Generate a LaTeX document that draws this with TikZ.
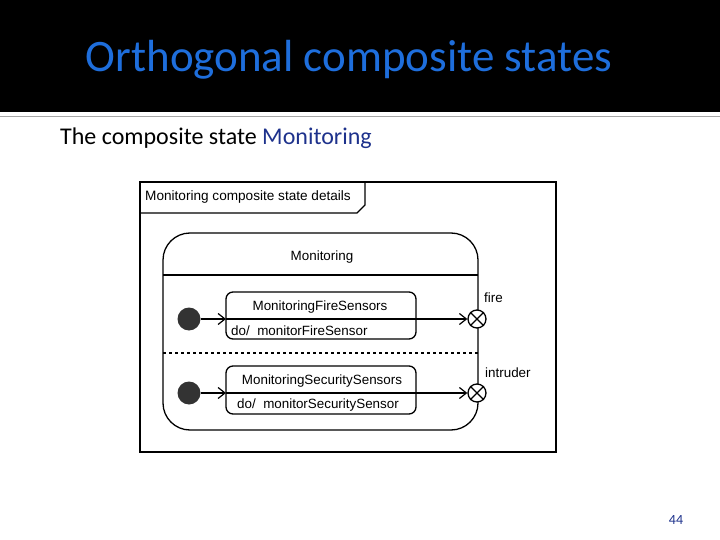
\documentclass[tikz,border=0pt]{standalone}
\usepackage{fontspec}
\setmainfont{Carlito}
\newfontfamily\arialf{Liberation Sans}
\usetikzlibrary{arrows.meta}
\definecolor{ttl}{RGB}{30,110,220}
\definecolor{sub}{RGB}{30,50,140}
\begin{document}
\begin{tikzpicture}[x=1pt,y=-1pt,
  lbl/.style={font=\arialf\fontsize{13.4}{15}\selectfont, inner sep=0pt},
  statebox/.style={draw, line width=1.3pt, rounded corners=7pt},
  initdot/.style={circle, fill=black!80, minimum size=23pt, inner sep=0pt},
  exitpt/.style={circle, draw, line width=1.3pt, minimum size=18pt, inner sep=0pt},
  tr/.style={line width=1.2pt, -{Straight Barb[length=7pt,width=11pt]}}]
\useasboundingbox (0,0) rectangle (720,540);
\fill[black] (0,0) rectangle (720,112);
\draw[gray!70, line width=1pt] (0,117) -- (720,117);
\node[text=ttl, font=\fontsize{45}{48}\selectfont] (title) at (349,60) {Orthogonal composite states};
\node[anchor=west, font=\fontsize{24}{28}\selectfont, inner sep=0pt] (subt) at (60,138) {The composite state \textcolor{sub}{Monitoring}};
\node[text=sub, font=\fontsize{14}{16}\selectfont] (pg) at (676,520) {44};
% frame
\draw[line width=1.4pt] (140,182) rectangle (556,452);
\draw[line width=1.4pt] (140,213) -- (357,213) -- (365,205) -- (365,182);
\node[lbl, anchor=west, font=\arialf\fontsize{13.6}{15}\selectfont] (ft) at (145,197) {Monitoring composite state details};
% composite state
\draw[line width=1.3pt, rounded corners=27pt] (163,233) rectangle (478,430);
\draw[line width=1.3pt] (163,275) -- (478,275);
\draw[line width=1.1pt, dashed] (163,353) -- (478,353);
\node[lbl] (mon) at (322,257) {Monitoring};
% substates
\draw[statebox] (226,292) rectangle (416,339);
\node[lbl] (s1) at (320,307) {MonitoringFireSensors};
\node[lbl, anchor=west] (d1) at (231,331) {do/\ \ monitorFireSensor};
\draw[statebox] (226,366) rectangle (416,414);
\node[lbl] (s2) at (322,381) {MonitoringSecuritySensors};
\node[lbl, anchor=west] (d2) at (237,405) {do/\ \ monitorSecuritySensor};
% initial and exit
\node[initdot] (i1) at (189,319) {};
\node[initdot] (i2) at (189,393) {};
\node[exitpt, fill=white] (e1) at (477,319) {};
\node[exitpt, fill=white] (e2) at (477,393) {};
\foreach \e in {e1,e2}{
  \draw[line width=1.2pt] (\e.north east) -- (\e.south west);
  \draw[line width=1.2pt] (\e.north west) -- (\e.south east);}
\coordinate (b1) at (226,319);
\coordinate (b2) at (226,393);
\draw[tr] (i1) -- (b1);
\draw[tr] (b1) -- (e1);
\draw[tr] (i2) -- (b2);
\draw[tr] (b2) -- (e2);
\node[lbl, anchor=west] (fire) at (484,298) {fire};
\node[lbl, anchor=west] (intr) at (485,373) {intruder};
\end{tikzpicture}
\end{document}
